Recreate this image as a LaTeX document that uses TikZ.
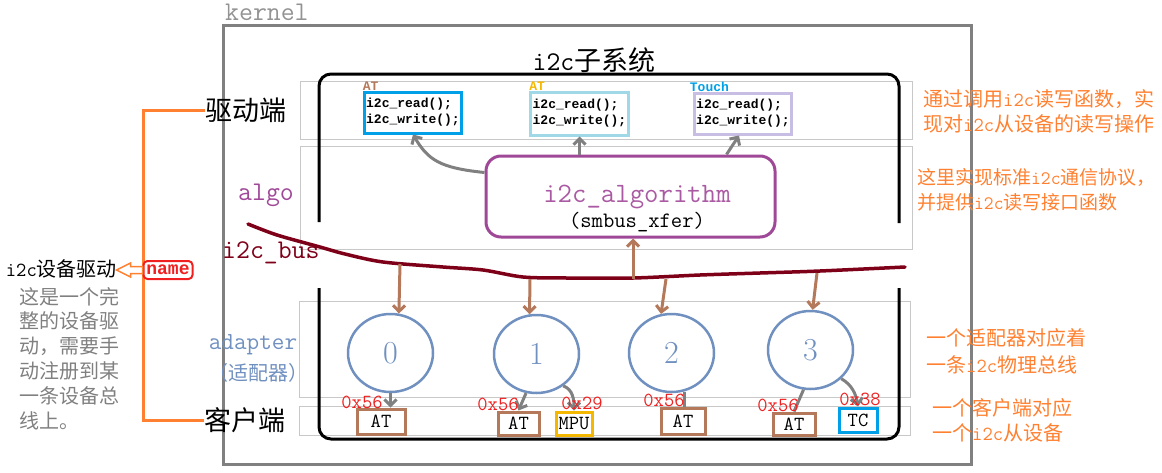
\documentclass[tikz,border=0pt]{standalone}
\usepackage{fontspec}
\usepackage{tikz}
\usetikzlibrary{shapes.geometric,calc,arrows.meta}
\newfontfamily\cjk{Noto Sans CJK SC}
\newfontfamily\code{Liberation Mono}
\newcommand{\fsz}[2]{\fontsize{#1}{#2}\selectfont}

\definecolor{kgray}{RGB}{128,128,128}
\definecolor{bandgray}{RGB}{200,200,200}
\definecolor{atbrown}{RGB}{180,120,90}
\definecolor{atblue}{RGB}{0,160,232}
\definecolor{lightblue}{RGB}{160,216,232}
\definecolor{lavender}{RGB}{200,190,228}
\definecolor{mpuyellow}{RGB}{245,184,0}
\definecolor{algpurple}{RGB}{160,72,152}
\definecolor{adpblue}{RGB}{112,144,192}
\definecolor{addrred}{RGB}{240,32,32}
\definecolor{noteorange}{RGB}{255,128,48}
\definecolor{busred}{RGB}{126,0,24}

\tikzset{
  >={Straight Barb[length=6pt,width=12pt]},
  band/.style={draw=bandgray, line width=1pt},
  subsys/.style={line width=3pt, rounded corners=12pt},
  drvbox/.style={draw, line width=3pt, inner xsep=2pt, inner ysep=0pt, align=left, font=\code\bfseries\fsz{13}{16}},
  drvtag/.style={anchor=south west, inner sep=0pt, font=\code\bfseries\fsz{13}{13}},
  fetch/.style={->, kgray, line width=3pt},
  busline/.style={->, atbrown, line width=3pt},
  adp/.style={ellipse, draw=adpblue, line width=2.5pt, minimum width=85pt, minimum height=78pt, inner sep=0pt, text=adpblue, font=\fsz{32}{32}},
  client/.style={draw=atbrown, line width=3pt, inner sep=0pt, font=\ttfamily\fsz{20}{20}},
  addr/.style={text=addrred, inner sep=0pt, font=\ttfamily\fsz{20}{20}},
  note/.style={text=noteorange, anchor=west, align=left, inner sep=0pt, font=\cjk\fsz{20}{25}},
  side/.style={inner sep=0pt, font=\cjk\fsz{27}{27}},
}

\begin{document}
\begin{tikzpicture}[x=1pt, y=-1pt]
	\useasboundingbox (0,0) rectangle (1162,472);
	%\draw[help lines] (0,0) grid[step=50] (1162,472);
	% layer bands
	\draw[band] (300,81) rectangle (912,139);
	\draw[band] (300,146) rectangle (912,249);
	\draw[band] (299,301) rectangle (910,397);
	\draw[band] (299,406) rectangle (910,435);
	% kernel
	\draw[kgray, line width=3pt] (223,25) rectangle (971,464);
	\node[font=\ttfamily\fsz{27}{27}, text=kgray!85, anchor=west, inner sep=0pt] (kern) at (225,12) {kernel};
	% i2c subsystem frame
	\draw[subsys] (319,222) -- (319,74) -- (899,74) -- (899,223);
	\draw[subsys] (319,288) -- (319,439) -- (899,439) -- (899,288);
	\node[font=\cjk\fsz{27}{27}, inner sep=0pt] (title) at (594,60) {\texttt{i2c}子系统};

	% drivers
	\node[drvbox, draw=atblue, minimum width=92pt, minimum height=41pt] (drvA) at (413,112.5) {i2c\_read();\\i2c\_write();};
	\node[drvbox, draw=lightblue, minimum width=97pt, minimum height=43pt] (drvB) at (579.5,113.5) {i2c\_read();\\i2c\_write();};
	\node[drvbox, draw=lavender, minimum width=96pt, minimum height=41pt] (drvC) at (743,113.5) {i2c\_read();\\i2c\_write();};
	\node[drvtag, text=atbrown] at (drvA.north west) {AT};
	\node[drvtag, text=mpuyellow] at (drvB.north west) {AT};
	\node[drvtag, text=atblue] at ($(drvC.north west)+(-3,0)$) {Touch};

	% algorithm
	\node[draw=algpurple, line width=3pt, rounded corners=15pt, minimum width=289pt, minimum height=81pt] (alg) at (630.5,196.5) {};
	\node[text=algpurple!90, font=\ttfamily\fsz{28}{28}, inner sep=0pt] (algname) at (637,197) {i2c\_algorithm};
	\node[font=\ttfamily\fsz{22}{22}, inner sep=0pt] (xfer) at (637,222) {(smbus\_xfer)};
	\draw[fetch] ($(alg.west)+(0,-24)$) .. controls (440,168) and (428,160) .. (drvA.south);
	\draw[fetch] (drvB.south |- alg.north) -- (drvB.south);
	\draw[fetch] ($(alg.north)+(96,0)$) -- ($(drvC.south)+(-4,0)$);

	% bus
	\draw[busred, line width=3.5pt, line cap=round] plot[smooth] coordinates {(248,224) (277,235) (320,247) (345,254) (383,262) (443,267) (483,270) (523,277) (567,278) (633,278) (700,275) (760,273) (820,271) (905,267)};
	\coordinate (tap0) at (400,264);
	\coordinate (tap1) at (530,279);
	\coordinate (tapU) at (633,279);
	\coordinate (tap2) at (666,279);
	\coordinate (tap3) at (817,273);

	% adapters
	\node[adp] (c0) at (390.5,353) {0};
	\node[adp] (c1) at (536.5,354) {1};
	\node[adp] (c2) at (671.5,353) {2};
	\node[adp] (c3) at (810.5,350) {3};
	\draw[busline] (tap0) -- (c0.78);
	\draw[busline] (tap1) -- (c1.100);
	\draw[busline] (tap2) -- (c2.105);
	\draw[busline] (tap3) -- (c3.87);
	\draw[busline] (tapU) -- (tapU |- alg.south);

	% clients
	\node[client, minimum width=48pt, minimum height=25pt] (at0) at (381,421.5) {AT};
	\node[client, minimum width=41pt, minimum height=23pt] (at1) at (518.5,423.5) {AT};
	\node[client, draw=mpuyellow, minimum width=36pt, minimum height=23pt] (mpu) at (574,423.5) {MPU};
	\node[client, minimum width=44pt, minimum height=26pt] (at2) at (683,421) {AT};
	\node[client, minimum width=42pt, minimum height=22pt] (at3) at (794,424) {AT};
	\node[client, draw=atblue, minimum width=38pt, minimum height=24pt] (tc) at (858,420) {TC};
	\draw[fetch] (c0.south) -- (c0.south |- at0.north);
	\draw[fetch] (c1.255) -- (at1.north);
	\draw[fetch] (c1.-50) to[out=-20, in=90] (mpu.north);
	\draw[kgray, line width=3pt] (c2.288) -- (c2.288 |- at2.north);
	\draw[kgray, line width=3pt] (c3.260) -- (at3.north);
	\draw[fetch] (c3.-43) to[out=-30, in=100] (tc.north);
	\node[addr] at (362,402) {0x56};
	\node[addr] at (498,404) {0x56};
	\node[addr] at (582,403) {0x29};
	\node[addr] at (664,400) {0x56};
	\node[addr] at (778,405) {0x56};
	\node[addr] at (860,399) {0x38};

	% left side labels
	\node[side] (qd) at (246,110) {驱动端};
	\node[side] (kh) at (245,420) {客户端};
	\node[text=algpurple, font=\ttfamily\fsz{27}{27}, inner sep=0pt] (algo) at (266,195) {algo};
	\node[text=busred, font=\ttfamily\fsz{27}{27}, anchor=west, inner sep=0pt] (busname) at (222,253) {i2c\_bus};
	\node[text=adpblue, font=\ttfamily\fsz{24.5}{24.5}, inner sep=0pt] (adpname) at (253,345) {adapter};
	\node[text=adpblue, font=\cjk\fsz{20}{20}, inner sep=0pt] (adpcn) at (258,373) {（适配器）};

	% device driver
	\coordinate (brk) at (143,270);
	\draw[noteorange, line width=3pt] (qd.west) -| (brk) |- (kh.west);
	\node[draw=addrred, line width=2pt, rounded corners=4pt, fill=white, text=addrred, font=\code\bfseries\fsz{18}{18}, inner sep=1pt, minimum width=49pt, minimum height=18pt] (name) at (168,270) {name};
	\draw[noteorange, line width=1.5pt, fill=white] (name.west) ++(0,3.5) -- ++(-12,0) -- ++(0,3.5) -- ++(-14,-7) -- ++(14,-7) -- ++(0,3.5) -- ++(12,0) -- cycle;
	\node[font=\cjk\fsz{20}{20}, anchor=east, inner sep=0pt] (drvname) at (117,269) {\texttt{i2c}设备驱动};
	\node[text=kgray, font=\cjk\fsz{20}{24.8}, align=left, anchor=north west, inner sep=0pt] (desc) at (19,287) {这是一个完\\整的设备驱\\动，需要手\\动注册到某\\一条设备总\\线上。};

	% notes
	\node[note] (n1) at (923,111) {通过调用\texttt{i2c}读写函数，实\\现对\texttt{i2c}从设备的读写操作};
	\node[note, font=\cjk\fsz{19}{25}] (n2) at (917,189.5) {这里实现标准\texttt{i2c}通信协议，\\并提供\texttt{i2c}读写接口函数};
	\node[note, font=\cjk\fsz{20}{27}] (n3) at (926,351) {一个适配器对应着\\一条\texttt{i2c}物理总线};
	\node[note] (n4) at (932,420.5) {一个客户端对应\\一个\texttt{i2c}从设备};
\end{tikzpicture}
\end{document}
